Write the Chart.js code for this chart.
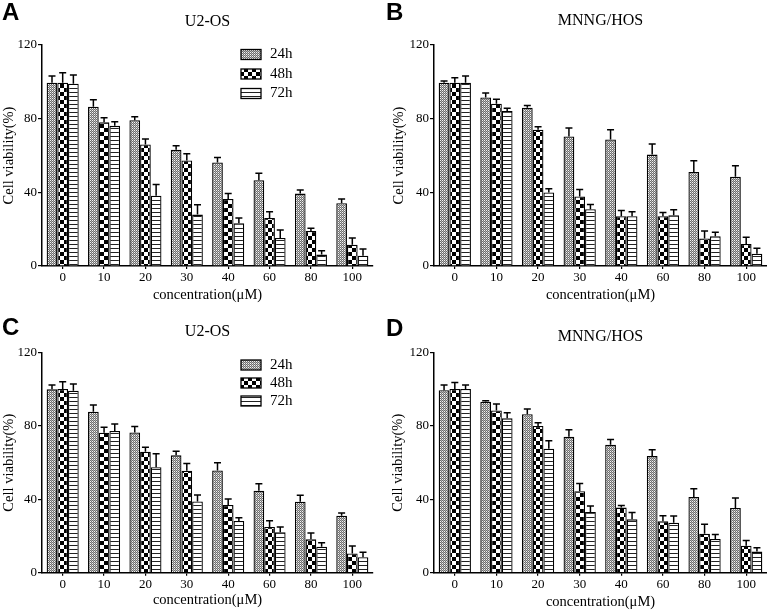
<!DOCTYPE html>
<html>
<head>
<meta charset="utf-8">
<script src="https://cdn.jsdelivr.net/npm/chart.js@4.4.0/dist/chart.umd.min.js"></script>
<style>
    body { margin: 0; background: #fff; }
    #wrap { position: relative; width: 767px; height: 611px; overflow: hidden; }
    canvas { position: absolute; }
    .letter { position: absolute; font-family: "Liberation Sans", Arial, sans-serif; font-weight: bold; font-size: 24px; line-height: 1; color: #000; }
</style>
</head>
<body>
<div id="wrap">
    <canvas id="chartA" width="384" height="305" style="left:0;top:0"></canvas>
    <canvas id="chartB" width="383" height="305" style="left:384px;top:0"></canvas>
    <canvas id="chartC" width="384" height="306" style="left:0;top:305px"></canvas>
    <canvas id="chartD" width="383" height="306" style="left:384px;top:305px"></canvas>
    <div class="letter" style="left:2px;top:0">A</div>
    <div class="letter" style="left:386px;top:0">B</div>
    <div class="letter" style="left:2px;top:315px">C</div>
    <div class="letter" style="left:386px;top:316px">D</div>
</div>
<script>
const concentrations = ["0", "10", "20", "30", "40", "60", "80", "100"];
const hours = ["24h", "48h", "72h"];
const yTicks = [0, 40, 80, 120];

// A: U2-OS
const u2osA_24h = [99.5, 86.5, 79.2, 63.1, 56.2, 46.6, 39.3, 34.1];
const u2osA_24h_err = [3.6, 3.8, 1.8, 2.2, 2.7, 3.8, 2.0, 2.3];
const u2osA_48h = [99.5, 78.0, 66.0, 57.3, 36.4, 26.1, 19.0, 11.6];
const u2osA_48h_err = [5.4, 2.5, 3.0, 3.6, 2.9, 3.4, 1.5, 3.6];
const u2osA_72h = [99.0, 76.1, 38.2, 27.9, 23.2, 15.2, 6.2, 5.6];
const u2osA_72h_err = [4.7, 2.2, 6.0, 5.3, 2.9, 4.4, 2.1, 3.6];

// B: MNNG/HOS
const hosB_24h = [99.5, 91.5, 85.9, 70.3, 68.7, 60.5, 51.1, 48.4];
const hosB_24h_err = [0.9, 2.5, 1.3, 4.7, 5.3, 5.8, 6.0, 6.0];
const hosB_48h = [99.5, 88.1, 74.0, 37.7, 27.0, 27.0, 14.9, 12.0];
const hosB_48h_err = [2.7, 2.4, 1.6, 3.8, 3.1, 2.0, 4.1, 3.6];
const hosB_72h = [99.5, 84.1, 39.9, 30.8, 27.0, 27.6, 16.1, 6.7];
const hosB_72h_err = [3.6, 1.5, 2.0, 2.6, 2.5, 2.9, 2.2, 2.9];

// C: U2-OS
const u2osC_24h = [100.0, 87.8, 76.5, 64.0, 55.8, 44.7, 38.7, 31.1];
const u2osC_24h_err = [2.4, 3.7, 3.3, 2.2, 4.2, 3.8, 3.5, 1.4];
const u2osC_48h = [100.2, 76.4, 66.0, 55.6, 36.9, 24.9, 18.2, 10.5];
const u2osC_48h_err = [4.0, 2.9, 2.4, 3.9, 3.3, 3.5, 3.4, 4.0];
const u2osC_72h = [99.3, 77.3, 57.5, 38.9, 28.2, 22.0, 14.2, 8.4];
const u2osC_72h_err = [3.6, 3.8, 7.4, 3.5, 1.8, 2.9, 2.2, 2.7];

// D: MNNG/HOS
const hosD_24h = [99.5, 93.3, 86.4, 74.2, 69.8, 63.6, 41.3, 35.3];
const hosD_24h_err = [2.9, 0.5, 2.9, 3.8, 2.9, 3.5, 4.5, 5.4];
const hosD_48h = [100.2, 88.5, 80.0, 44.4, 35.5, 28.0, 21.3, 14.7];
const hosD_48h_err = [3.6, 3.5, 1.8, 4.3, 1.2, 3.1, 5.1, 2.9];
const hosD_72h = [100.2, 84.2, 67.6, 33.1, 29.1, 27.3, 18.4, 11.5];
const hosD_72h_err = [2.2, 3.1, 4.4, 3.3, 3.8, 3.6, 2.5, 2.1];

const serif = "'Liberation Serif', 'Times New Roman', serif";

function makePattern(kind) {
    let c = document.createElement("canvas");
    let g = c.getContext("2d");
    if (kind === "fine") {
        // grey with small white dots
        c.width = 2; c.height = 2;
        g.fillStyle = "#6e6e6e"; g.fillRect(0, 0, 2, 2);
        g.fillStyle = "#f4f4f4"; g.fillRect(0, 0, 1, 1);
        g.fillStyle = "#b0b0b0"; g.fillRect(1, 1, 1, 1);
    } else if (kind === "checker") {
        c.width = 8; c.height = 8;
        g.fillStyle = "#fff"; g.fillRect(0, 0, 8, 8);
        g.fillStyle = "#000"; g.fillRect(0, 0, 4, 4); g.fillRect(4, 4, 4, 4);
    } else {
        c.width = 4; c.height = 4;
        g.fillStyle = "#fff"; g.fillRect(0, 0, 4, 4);
        g.fillStyle = "#222"; g.fillRect(0, 0, 4, 1);
    }
    return g.createPattern(c, "repeat");
}

let fills = [makePattern("fine"), makePattern("checker"), makePattern("stripes")];

// upper error bars drawn with the chart's own y scale
const errorBars = {
    id: "errorBars",
    afterDatasetsDraw(chart) {
        let ctx = chart.ctx, y = chart.scales.y;
        ctx.save();
        ctx.strokeStyle = "#000";
        ctx.lineWidth = 1.5;
        chart.data.datasets.forEach((ds, i) => {
            chart.getDatasetMeta(i).data.forEach((bar, j) => {
                let top = y.getPixelForValue(ds.data[j] + ds.errors[j]);
                ctx.beginPath();
                ctx.moveTo(bar.x, bar.y);
                ctx.lineTo(bar.x, top);
                ctx.moveTo(bar.x - 3.5, top);
                ctx.lineTo(bar.x + 3.5, top);
                ctx.stroke();
            });
        });
        ctx.restore();
    }
};

// legend with patterned boxes, placed inside the plot
const boxLegend = {
    id: "boxLegend",
    afterDraw(chart, args, opts) {
        if (!opts.show) return;
        let ctx = chart.ctx, area = chart.chartArea;
        ctx.save();
        ctx.font = "15px " + serif;
        ctx.textBaseline = "middle";
        chart.data.datasets.forEach((ds, i) => {
            let bx = area.left + opts.x, cy = area.top + opts.y + i * opts.gap;
            ctx.fillStyle = ds.backgroundColor;
            ctx.fillRect(bx, cy - 5, 20, 10);
            ctx.strokeStyle = "#000";
            ctx.lineWidth = 1.3;
            ctx.strokeRect(bx, cy - 5, 20, 10);
            ctx.fillStyle = "#000";
            ctx.fillText(ds.label, bx + 29, cy);
        });
        ctx.restore();
    }
};

function drawPanel(id, title, series, errors, lay) {
    let datasets = series.map((values, i) => ({
        label: hours[i],
        data: values,
        errors: errors[i],
        backgroundColor: fills[i],
        borderColor: "#000",
        borderWidth: 1.3,
        barPercentage: 1.0,
        categoryPercentage: 0.775
    }));

    new Chart(document.getElementById(id), {
        type: "bar",
        data: { labels: concentrations, datasets: datasets },
        plugins: [errorBars, boxLegend],
        options: {
            responsive: false,
            animation: false,
            layout: { padding: { left: 0, right: lay.padRight, top: 0, bottom: 0 } },
            plugins: {
                legend: { display: false },
                tooltip: { enabled: false },
                title: {
                    display: true,
                    text: title,
                    fullSize: false,
                    color: "#000",
                    font: { family: serif, size: 16, weight: "normal" },
                    padding: { top: lay.titleTop, bottom: lay.titleBottom }
                },
                boxLegend: lay.legend || { show: false }
            },
            scales: {
                x: {
                    afterFit: scale => { scale.height = lay.xHeight; },
                    grid: { drawOnChartArea: false, offset: false, tickLength: 3, color: "#000", lineWidth: 1.2 },
                    border: { color: "#000", width: 1.5 },
                    ticks: { color: "#000", padding: 1, font: { family: serif, size: 13 } },
                    title: {
                        display: true,
                        text: "concentration(μM)",
                        color: "#000",
                        font: { family: serif, size: 14.5 },
                        padding: { top: 0, bottom: lay.xTitlePad }
                    }
                },
                y: {
                    min: 0,
                    max: 120,
                    afterFit: scale => { scale.width = lay.yWidth; },
                    afterBuildTicks: scale => { scale.ticks = yTicks.map(v => ({ value: v })); },
                    grid: { drawOnChartArea: false, tickLength: 4, color: "#000", lineWidth: 1.2 },
                    border: { color: "#000", width: 1.5 },
                    ticks: { color: "#000", padding: 1, font: { family: serif, size: 13 } },
                    title: {
                        display: true,
                        text: "Cell viability(%)",
                        color: "#000",
                        font: { family: serif, size: 14.5 },
                        padding: { top: lay.yTitlePad, bottom: 0 }
                    }
                }
            }
        }
    });
}

drawPanel("chartA", "U2-OS",
    [u2osA_24h, u2osA_48h, u2osA_72h], [u2osA_24h_err, u2osA_48h_err, u2osA_72h_err],
    { padRight: 11, yWidth: 42, xHeight: 39, titleTop: 12.4, titleBottom: 13.4, xTitlePad: 1, yTitlePad: 0,
      legend: { show: true, x: 199, y: 9.5, gap: 19.5 } });

drawPanel("chartB", "MNNG/HOS",
    [hosB_24h, hosB_48h, hosB_72h], [hosB_24h_err, hosB_48h_err, hosB_72h_err],
    { padRight: 0, yWidth: 50, xHeight: 39, titleTop: 11.1, titleBottom: 14.7, xTitlePad: 1, yTitlePad: 6 });

drawPanel("chartC", "U2-OS",
    [u2osC_24h, u2osC_48h, u2osC_72h], [u2osC_24h_err, u2osC_48h_err, u2osC_72h_err],
    { padRight: 11, yWidth: 42, xHeight: 38.3, titleTop: 17.4, titleBottom: 11.1, xTitlePad: 2, yTitlePad: 0,
      legend: { show: true, x: 199, y: 12.3, gap: 18 } });

drawPanel("chartD", "MNNG/HOS",
    [hosD_24h, hosD_48h, hosD_72h], [hosD_24h_err, hosD_48h_err, hosD_72h_err],
    { padRight: 0, yWidth: 50, xHeight: 38.3, titleTop: 22.1, titleBottom: 6.4, xTitlePad: 0, yTitlePad: 5 });
</script>
</body>
</html>
